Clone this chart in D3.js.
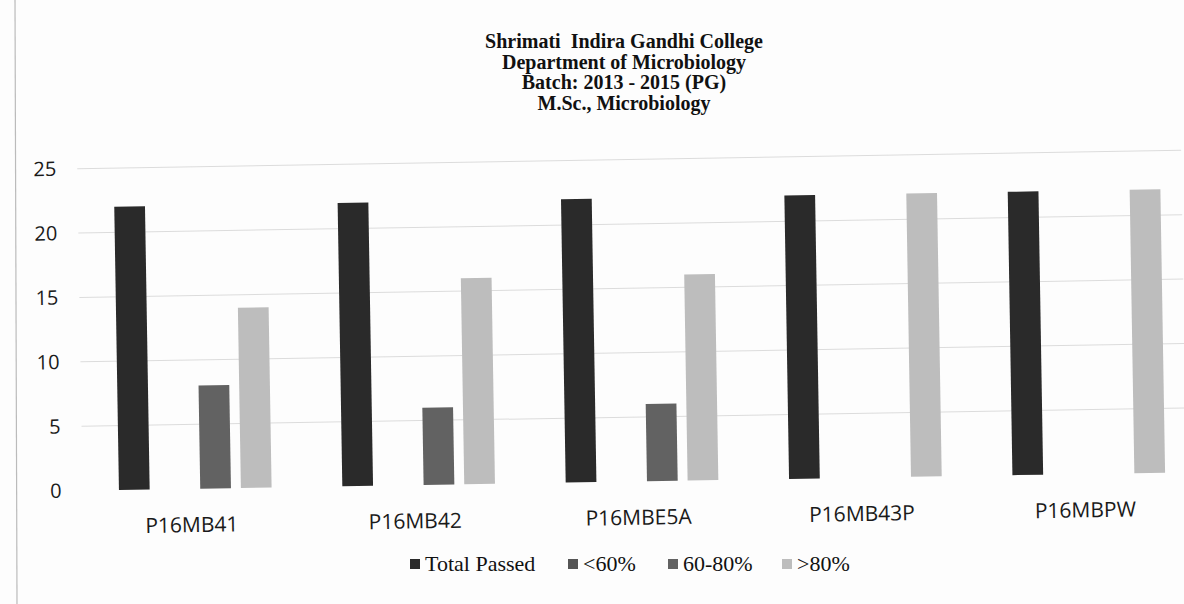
<!DOCTYPE html>
<html><head><meta charset="utf-8">
<script src="https://cdn.jsdelivr.net/npm/d3@7"></script>
<style>body{margin:0;background:#fff}</style>
</head><body>
<script>
const categories = ["P16MB41","P16MB42","P16MBE5A","P16MB43P","P16MBPW"];
const seriesNames = ["Total Passed","<60%","60-80%",">80%"];
const totalPassed = [22,22,22,22,22];
const below60 = [0,0,0,0,0];
const from60to80 = [8,6,6,0,0];
const above80 = [14,16,16,22,22];
const yTicks = [0,5,10,15,20,25];
const titleLines = ["Shrimati  Indira Gandhi College","Department of Microbiology","Batch: 2013 - 2015 (PG)","M.Sc., Microbiology"];

const series = [totalPassed, below60, from60to80, above80];
const colors = ["#2a2a2a","#555555","#626262","#bdbdbd"];

const W=1184,H=604;
const svg=d3.select("body").append("svg").attr("width",W).attr("height",H);
svg.append("rect").attr("width",W).attr("height",H).attr("fill","#fdfdfd");
svg.append("line").attr("x1",15).attr("x2",17).attr("y1",0).attr("y2",H).attr("stroke","#bbb").attr("stroke-width",1.2);

const title=svg.append("text").attr("text-anchor","middle").attr("font-family","Liberation Serif, serif").attr("font-weight","bold").attr("font-size",20).attr("fill","#111").attr("xml:space","preserve");
titleLines.forEach((t,i)=>title.append("tspan").attr("x",624).attr("y",48+i*20.5).text(t));

const g=svg.append("g").attr("transform","rotate(-0.95,600,330)");
const x0=d3.scaleBand().domain(categories).range([81,1198]).padding(0);
const x1=d3.scaleBand().domain(seriesNames).range([0,x0.bandwidth()]).paddingInner(0.244).paddingOuter(0.87);
const y=d3.scaleLinear().domain([0,25]).range([482,160]);

g.selectAll("line.grid").data(yTicks.slice(1)).join("line").attr("class","grid")
 .attr("x1",80).attr("x2",1184).attr("y1",d=>y(d)).attr("y2",d=>y(d)).attr("stroke","#dcdcdc").attr("stroke-width",1);

const yAxis=d3.axisLeft(y).tickValues(yTicks).tickSize(0).tickPadding(0);
const ya=g.append("g").attr("transform","translate(59,0)").call(yAxis);
ya.select(".domain").remove();
ya.selectAll("text").attr("font-family","Open Sans, sans-serif").attr("font-size",20).attr("fill","#1a1a1a");

const groups=g.selectAll("g.cat").data(categories).join("g").attr("class","cat").attr("transform",d=>`translate(${x0(d)},0)`);
groups.selectAll("rect").data((d,i)=>series.map((s,j)=>({name:seriesNames[j],v:s[i],c:colors[j]}))).join("rect")
 .attr("x",d=>x1(d.name)).attr("width",x1.bandwidth()).attr("y",d=>y(d.v)).attr("height",d=>y(0)-y(d.v)).attr("fill",d=>d.c);

const xAxis=d3.axisBottom(x0).tickSize(0).tickPadding(0);
const xa=g.append("g").attr("transform",`translate(-4,${y(0)+36})`).call(xAxis);
xa.select(".domain").remove();
xa.selectAll("text").attr("font-family","Open Sans, sans-serif").attr("font-size",21).attr("fill","#1a1a1a").attr("dy","0.35em");

const legX=[410,568,668,782];
const leg=svg.append("g");
seriesNames.forEach((n,i)=>{
  leg.append("rect").attr("x",legX[i]).attr("y",559).attr("width",10).attr("height",10).attr("fill",colors[i]);
  leg.append("text").attr("x",legX[i]+15).attr("y",571).attr("font-family","Liberation Serif, serif").attr("font-size",22).attr("fill","#111").text(n);
});
</script>
</body></html>
